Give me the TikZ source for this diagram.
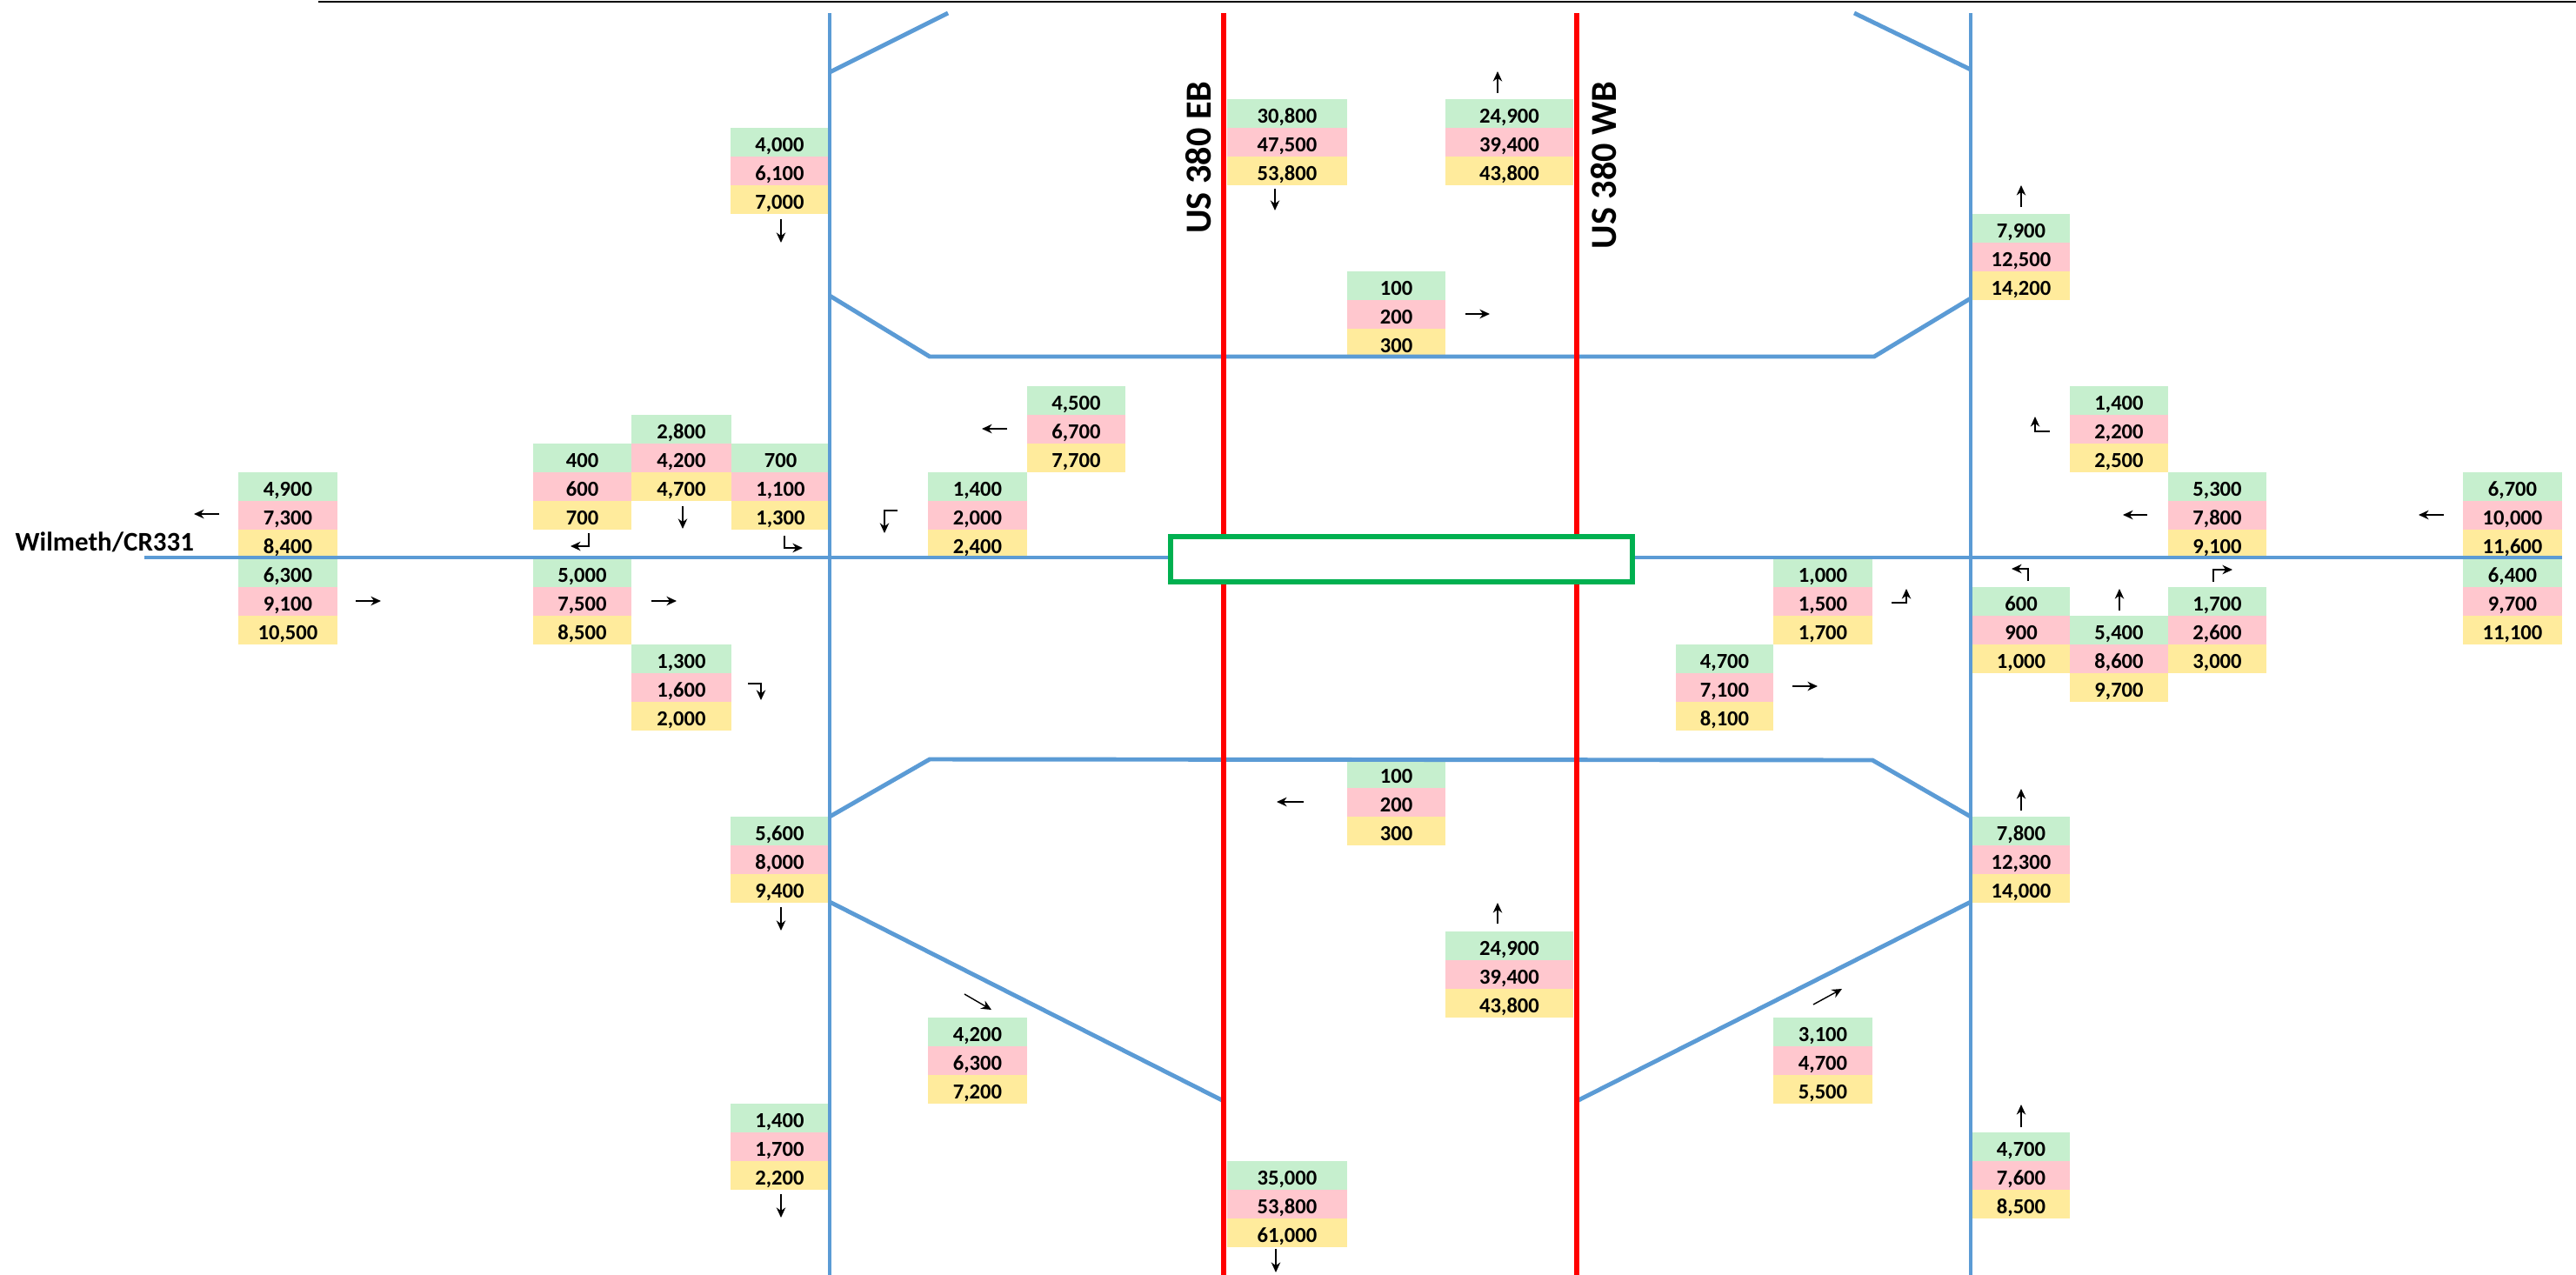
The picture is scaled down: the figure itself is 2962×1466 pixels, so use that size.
\documentclass[tikz,border=0pt]{standalone}
\usepackage{fontspec}
\setmainfont{Carlito}
\usetikzlibrary{arrows.meta, positioning}
\definecolor{roadblue}{RGB}{91,155,213}
\definecolor{hwyred}{RGB}{255,0,0}
\definecolor{bridgegreen}{RGB}{0,176,80}
\definecolor{amgreen}{RGB}{198,239,206}
\definecolor{pmpink}{RGB}{255,199,206}
\definecolor{futyellow}{RGB}{255,235,156}
\tikzset{
  cell/.style={rectangle, inner sep=0pt, outer sep=0pt,
    minimum height=0.33cm, text height=0.63em, text depth=0pt,
    font=\bfseries\fontsize{7}{8}\selectfont},
  road/.style={draw=roadblue, line width=1.4pt},
  hwy/.style={draw=hwyred, line width=1.8pt},
  mov/.style={-{Stealth[length=3.3pt, width=3pt]}, line width=0.4pt, black},
  roadname/.style={inner sep=0pt, font=\bfseries\fontsize{8.8}{10}\selectfont},
  hwyname/.style={inner sep=0pt, rotate=90, font=\bfseries\fontsize{12}{14}\selectfont}
}
% three-row volume stack: name, x, y, width, AM, PM, future
\newcommand{\volstack}[7]{%
  \node[cell, fill=amgreen, minimum width=#4cm, anchor=north west] (#1a) at (#2,#3) {#5};
  \node[cell, fill=pmpink, minimum width=#4cm, below=0pt of #1a] (#1b) {#6};
  \node[cell, fill=futyellow, minimum width=#4cm, below=0pt of #1b] (#1c) {#7};
}
\begin{document}
\begin{tikzpicture}[x=0.01cm, y=-0.01cm]
  \useasboundingbox (0,0) rectangle (2962,1466);

  % North side
  \volstack{nwdep}{840}{147}{1.13}{4,000}{6,100}{7,000}
  \volstack{ebin}{1411}{114}{1.38}{30,800}{47,500}{53,800}
  \volstack{wbout}{1662}{114}{1.47}{24,900}{39,400}{43,800}
  \volstack{neout}{2268}{246}{1.12}{7,900}{12,500}{14,200}
  \volstack{nuturn}{1549}{312}{1.13}{100}{200}{300}

  % West intersection
  \volstack{wexit}{274}{543}{1.14}{4,900}{7,300}{8,400}
  \volstack{wentry}{274}{642}{1.14}{6,300}{9,100}{10,500}
  \volstack{sbr}{613}{510}{1.13}{400}{600}{700}
  \volstack{sbt}{726}{477}{1.15}{2,800}{4,200}{4,700}
  \volstack{sbl}{841}{510}{1.13}{700}{1,100}{1,300}
  \volstack{ebt}{613}{642}{1.13}{5,000}{7,500}{8,500}
  \volstack{ebr}{726}{741}{1.15}{1,300}{1,600}{2,000}
  \volstack{wbl}{1067}{543}{1.14}{1,400}{2,000}{2,400}
  \volstack{wbt}{1181}{444}{1.13}{4,500}{6,700}{7,700}

  % East intersection
  \volstack{ebl}{2039}{642}{1.14}{1,000}{1,500}{1,700}
  \volstack{ebtm}{1927}{741}{1.12}{4,700}{7,100}{8,100}
  \volstack{wbr}{2380}{444}{1.13}{1,400}{2,200}{2,500}
  \volstack{wbte}{2493}{543}{1.13}{5,300}{7,800}{9,100}
  \volstack{eout}{2832}{543}{1.14}{6,700}{10,000}{11,600}
  \volstack{ein}{2832}{642}{1.14}{6,400}{9,700}{11,100}
  \volstack{nbl}{2268}{675}{1.12}{600}{900}{1,000}
  \volstack{nbt}{2380}{708}{1.13}{5,400}{8,600}{9,700}
  \volstack{nbr}{2493}{675}{1.13}{1,700}{2,600}{3,000}

  % South side
  \volstack{suturn}{1549}{873}{1.13}{100}{200}{300}
  \volstack{swdep}{840}{939}{1.13}{5,600}{8,000}{9,400}
  \volstack{seapp}{2268}{939}{1.12}{7,800}{12,300}{14,000}
  \volstack{wbin}{1662}{1071}{1.47}{24,900}{39,400}{43,800}
  \volstack{offramp}{1067}{1170}{1.14}{4,200}{6,300}{7,200}
  \volstack{onramp}{2039}{1170}{1.14}{3,100}{4,700}{5,500}
  \volstack{swfar}{840}{1269}{1.13}{1,400}{1,700}{2,200}
  \volstack{ebout}{1411}{1335}{1.38}{35,000}{53,800}{61,000}
  \volstack{sefar}{2268}{1302}{1.12}{4,700}{7,600}{8,500}

  % Roads
  \draw[line width=0.6pt] (366,2) -- (2962,2);
  \draw[road] (166,641) -- (2946,641);
  \draw[road] (954,15) -- (954,1466);
  \draw[road] (2266,15) -- (2266,1466);
  \draw[road] (954,83) -- (1090,15);
  \draw[road] (2132,15) -- (2266,80);
  \draw[road] (954,340) -- (1069,410) -- (2155,410) -- (2266,343);
  \draw[road] (954,939) -- (1069,873) -- (2153,874) -- (2266,939);
  \draw[road] (954,1037) -- (1407,1266);
  \draw[road] (1813,1266) -- (2266,1037);

  % Highway and bridge
  \draw[hwy] (1407,15) -- (1407,1466);
  \draw[hwy] (1813,15) -- (1813,1466);
  \draw[draw=bridgegreen, line width=1.85pt, fill=white] (1346,617) rectangle (1877,669);

  % Movement arrows
  \draw[mov] (252,591) -- (223,591);
  \draw[mov] (409,691) -- (438,691);
  \draw[mov] (677,613) |- (656,628);
  \draw[mov] (785,582) -- (785,608);
  \draw[mov] (902,616) |- (923,630);
  \draw[mov] (749,691) -- (778,691);
  \draw[mov] (860,786) -| (875,805);
  \draw[mov] (898,252) -- (898,279);
  \draw[mov] (1032,587) -| (1017,613);
  \draw[mov] (1158,493) -- (1129,493);
  \draw[mov] (1466,217) -- (1466,242);
  \draw[mov] (1722,107) -- (1722,82);
  \draw[mov] (1685,361) -- (1713,361);
  \draw[mov] (2324,238) -- (2324,213);
  \draw[mov] (2357,496) -| (2340,479);
  \draw[mov] (2469,592) -- (2441,592);
  \draw[mov] (2810,592) -- (2781,592);
  \draw[mov] (2332,668) |- (2313,654);
  \draw[mov] (2437,702) -- (2437,677);
  \draw[mov] (2545,669) |- (2567,655);
  \draw[mov] (2175,693) -| (2192,677);
  \draw[mov] (2061,789) -- (2090,789);
  \draw[mov] (1499,922) -- (1468,922);
  \draw[mov] (898,1043) -- (898,1070);
  \draw[mov] (1722,1062) -- (1722,1038);
  \draw[mov] (1109,1143) -- (1140,1161);
  \draw[mov] (2085,1155) -- (2118,1137);
  \draw[mov] (2324,932) -- (2324,907);
  \draw[mov] (2324,1296) -- (2324,1270);
  \draw[mov] (898,1373) -- (898,1400);
  \draw[mov] (1467,1436) -- (1467,1463);

  % Road names
  \node[roadname, anchor=base west] (wilmeth) at (17,633) {Wilmeth/CR331};
  \node[hwyname, anchor=base east] (ebname) at (1392,93) {US 380 EB};
  \node[hwyname, anchor=base east] (wbname) at (1858,93) {US 380 WB};
\end{tikzpicture}
\end{document}
